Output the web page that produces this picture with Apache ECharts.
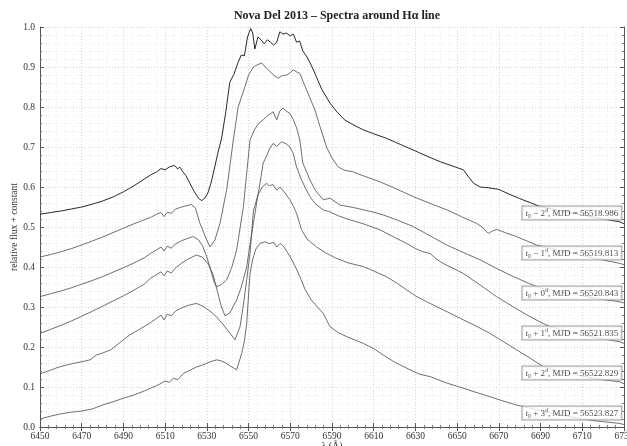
<!DOCTYPE html>
<html>
<head>
<meta charset="utf-8">
<script src="https://cdn.jsdelivr.net/npm/echarts@6/dist/echarts.min.js"></script>
<style>html,body{margin:0;padding:0;background:#fff}#c{width:627px;height:446px}</style>
</head>
<body>
<div id="c"></div>
<script>
// ---- data: [wavelength (Å), relative flux + constant] ----
const spec_m2d = [[6450,0.532],[6455,0.536],[6460,0.540],[6465,0.545],[6470,0.550],[6475,0.557],[6480,0.565],[6485,0.575],[6490,0.588],[6495,0.603],[6500,0.620],[6503,0.630],[6506,0.638],[6508,0.646],[6510,0.643],[6512,0.650],[6514.5,0.654],[6516,0.645],[6517,0.650],[6518.5,0.638],[6520,0.628],[6522,0.608],[6524,0.588],[6526,0.572],[6527.5,0.566],[6529,0.572],[6530.5,0.585],[6532,0.610],[6534,0.655],[6535.5,0.690],[6537,0.720],[6539,0.785],[6541,0.862],[6543,0.882],[6545,0.912],[6546.5,0.930],[6548,0.928],[6549.5,0.975],[6551,0.996],[6552,0.985],[6553,0.945],[6554.5,0.975],[6556,0.968],[6557.5,0.958],[6559,0.968],[6560.5,0.962],[6562,0.955],[6563.5,0.962],[6565,0.988],[6566.5,0.982],[6568,0.985],[6570,0.978],[6571.5,0.982],[6573,0.962],[6574.5,0.965],[6576,0.940],[6578,0.925],[6580,0.905],[6582.5,0.876],[6585,0.845],[6589,0.810],[6592,0.790],[6596,0.768],[6600,0.756],[6605,0.743],[6610,0.733],[6616,0.722],[6623,0.706],[6630,0.690],[6636,0.676],[6642,0.663],[6648,0.652],[6653,0.643],[6655.5,0.625],[6658,0.609],[6661,0.600],[6665,0.598],[6670,0.594],[6675,0.582],[6680,0.571],[6685,0.561],[6690,0.551],[6700,0.540],[6710,0.530],[6720,0.520],[6728,0.513],[6730,0.508]];
const spec_m1d = [[6450,0.425],[6455,0.431],[6460,0.438],[6465,0.446],[6470,0.455],[6475,0.465],[6480,0.475],[6485,0.486],[6490,0.497],[6495,0.508],[6500,0.518],[6503,0.524],[6506,0.532],[6508,0.536],[6509.5,0.526],[6511,0.537],[6513,0.534],[6515,0.545],[6518,0.550],[6520,0.553],[6522.5,0.556],[6524.5,0.548],[6526.7,0.509],[6529.9,0.468],[6531.5,0.450],[6533.9,0.468],[6536.3,0.509],[6539.5,0.593],[6542.7,0.718],[6545,0.800],[6548.3,0.851],[6550,0.880],[6552.3,0.900],[6554,0.905],[6556.3,0.910],[6558,0.900],[6560.3,0.888],[6562,0.880],[6564.2,0.872],[6566,0.878],[6568.3,0.880],[6570,0.886],[6571.4,0.893],[6573,0.888],[6574.6,0.884],[6576,0.865],[6577.8,0.843],[6580,0.815],[6581.8,0.793],[6584,0.755],[6587.4,0.700],[6590,0.672],[6593,0.650],[6596,0.642],[6600,0.638],[6605,0.628],[6613,0.613],[6620,0.597],[6629,0.576],[6637,0.559],[6645,0.543],[6652,0.526],[6659.3,0.509],[6662,0.500],[6664.9,0.484],[6667,0.490],[6669,0.494],[6673,0.486],[6678.5,0.476],[6683,0.466],[6688,0.455],[6700,0.440],[6715,0.423],[6728,0.409],[6730,0.406]];
const spec_p0d = [[6450,0.326],[6455,0.333],[6460,0.340],[6465,0.348],[6470,0.357],[6475,0.366],[6480,0.376],[6485,0.387],[6490,0.398],[6495,0.410],[6500,0.423],[6503,0.434],[6506,0.443],[6508,0.450],[6509.5,0.440],[6511,0.452],[6513,0.447],[6515,0.458],[6518,0.466],[6521,0.472],[6523.5,0.476],[6526,0.468],[6528,0.452],[6530,0.425],[6532,0.390],[6533.5,0.362],[6534.7,0.351],[6537,0.356],[6539.5,0.368],[6542,0.400],[6544.3,0.443],[6547.5,0.550],[6550.7,0.718],[6553,0.745],[6555,0.760],[6557,0.768],[6559,0.778],[6561.8,0.788],[6563.5,0.768],[6565,0.790],[6566.6,0.797],[6568,0.790],[6569.8,0.784],[6571.5,0.768],[6573,0.748],[6574.5,0.720],[6576,0.660],[6579.4,0.618],[6582,0.592],[6585.8,0.568],[6589,0.572],[6593.8,0.555],[6600,0.549],[6605,0.543],[6610,0.537],[6614.6,0.530],[6620,0.520],[6629,0.501],[6637,0.478],[6645,0.455],[6653,0.436],[6661,0.418],[6669,0.396],[6677,0.376],[6684,0.360],[6690,0.347],[6700,0.337],[6710,0.328],[6720,0.319],[6728,0.313],[6730,0.310]];
const spec_p1d = [[6450,0.234],[6455,0.244],[6460,0.254],[6465,0.265],[6470,0.277],[6475,0.289],[6480,0.302],[6485,0.315],[6490,0.328],[6495,0.342],[6500,0.357],[6503,0.372],[6506,0.381],[6508,0.388],[6509.5,0.378],[6511,0.390],[6513,0.385],[6515,0.398],[6518,0.410],[6521,0.420],[6525,0.430],[6528,0.424],[6531,0.405],[6533,0.380],[6535,0.340],[6537,0.300],[6538.7,0.278],[6541,0.285],[6544.3,0.318],[6546.5,0.350],[6549.1,0.400],[6550.5,0.450],[6552.3,0.509],[6554,0.565],[6555.5,0.610],[6557,0.660],[6558.7,0.678],[6560,0.695],[6561.8,0.709],[6563.5,0.702],[6565.9,0.713],[6568,0.708],[6569.8,0.700],[6571.4,0.684],[6573,0.650],[6575.4,0.618],[6577,0.600],[6579.4,0.576],[6582,0.558],[6585.8,0.543],[6589,0.538],[6593,0.528],[6598.6,0.518],[6605,0.508],[6613,0.493],[6620,0.474],[6625.8,0.459],[6630,0.446],[6633.7,0.438],[6637,0.434],[6640,0.420],[6643.3,0.409],[6648,0.397],[6652.9,0.384],[6661,0.355],[6668.9,0.326],[6677,0.300],[6684.9,0.276],[6690,0.262],[6694.5,0.251],[6705,0.237],[6715,0.225],[6728,0.213],[6730,0.209]];
const spec_p2d = [[6450,0.133],[6454,0.140],[6458,0.148],[6462,0.154],[6466,0.159],[6470,0.163],[6474,0.168],[6477,0.180],[6480,0.185],[6484,0.193],[6488,0.210],[6493,0.230],[6498,0.245],[6503,0.261],[6506,0.272],[6508,0.280],[6509.5,0.268],[6511,0.282],[6513,0.278],[6515,0.290],[6518,0.298],[6521,0.304],[6525,0.309],[6528,0.302],[6531.5,0.290],[6534.7,0.275],[6538,0.255],[6541,0.235],[6543.5,0.218],[6545.9,0.251],[6547.5,0.305],[6549.1,0.368],[6550.7,0.434],[6552.3,0.540],[6554.5,0.580],[6556.5,0.600],[6558.7,0.609],[6560,0.603],[6561.7,0.606],[6563.5,0.592],[6565.1,0.600],[6567.5,0.585],[6569.8,0.568],[6571.5,0.552],[6573,0.534],[6575.4,0.493],[6578,0.470],[6582.6,0.450],[6587.4,0.434],[6592,0.422],[6598,0.410],[6605,0.401],[6610,0.390],[6616,0.376],[6621,0.360],[6625.8,0.343],[6630,0.328],[6635.4,0.313],[6643.3,0.293],[6652.9,0.268],[6660,0.250],[6665.7,0.234],[6672,0.214],[6678.5,0.193],[6685,0.172],[6691.3,0.151],[6700,0.138],[6710,0.127],[6720,0.118],[6728,0.113],[6730,0.108]];
const spec_p3d = [[6450,0.020],[6455,0.027],[6460,0.033],[6465,0.037],[6470,0.040],[6475,0.045],[6480,0.055],[6485,0.063],[6490,0.072],[6495,0.080],[6500,0.090],[6503,0.097],[6507,0.106],[6510,0.115],[6512,0.112],[6514,0.122],[6516,0.118],[6518.7,0.134],[6522,0.142],[6525,0.150],[6528,0.155],[6531,0.162],[6534.7,0.168],[6537,0.165],[6539,0.160],[6542,0.150],[6544.3,0.143],[6546.7,0.184],[6548,0.215],[6549.1,0.259],[6550,0.330],[6550.7,0.384],[6552,0.420],[6553.5,0.445],[6555.5,0.459],[6558,0.463],[6560,0.458],[6562,0.462],[6563.5,0.450],[6565.1,0.459],[6567,0.450],[6570,0.425],[6572.5,0.400],[6574.6,0.376],[6577,0.345],[6580,0.318],[6583,0.300],[6585.8,0.284],[6589,0.251],[6593,0.236],[6597,0.226],[6605,0.209],[6610,0.196],[6614.6,0.180],[6620,0.162],[6627.4,0.143],[6632,0.132],[6637,0.126],[6645,0.110],[6652.9,0.097],[6660,0.085],[6665.7,0.076],[6672,0.065],[6678.5,0.055],[6684.9,0.047],[6695,0.035],[6705,0.025],[6715,0.016],[6728,0.009],[6730,0.006]];

const spectra   = [spec_m2d, spec_m1d, spec_p0d, spec_p1d, spec_p2d, spec_p3d];
const dayShift  = [-2, -1, 0, 1, 2, 3];
const mjd       = ['56518.986', '56519.813', '56520.843', '56521.835', '56522.829', '56523.827'];
const offsets   = [0.5, 0.4, 0.3, 0.2, 0.1, 0.0];
const xTicks    = [6450, 6730, 20];
const yTicks    = [0.0, 1.0, 0.1];

const SERIF = '"Liberation Serif","DejaVu Serif",serif';
const lineColors = ['#111', '#4a4a4a', '#4a4a4a', '#4a4a4a', '#4a4a4a', '#4a4a4a'];

const series = spectra.map((d, i) => ({
  type: 'line', data: d, showSymbol: false, symbol: 'none', silent: true,
  lineStyle: { color: lineColors[i], width: i === 0 ? 0.9 : 0.8 },
  z: 2, animation: false
}));

const labelData = dayShift.map((s, i) => ({
  value: [6705, offsets[i] + 0.035],
  label: {
    formatter: '{it|t}{sub|0}{n| ' + (s < 0 ? '\u2212' : '+') + ' ' + Math.abs(s) + '}{sup|d}{n|, MJD = ' + mjd[i] + '}'
  }
}));

series.push({
  type: 'scatter', data: labelData, symbolSize: 0, silent: true, z: 10, animation: false,
  label: {
    show: true, position: 'inside',
    backgroundColor: '#fff', borderColor: '#8a8a8a', borderWidth: 1,
    padding: [1, 3, 0, 3],
    rich: {
      it:  { fontFamily: SERIF, fontStyle: 'italic', fontSize: 9, color: '#222', lineHeight: 12 },
      sub: { fontFamily: SERIF, fontSize: 6, color: '#222', verticalAlign: 'bottom', lineHeight: 12, padding: [4, 0, 0, 0] },
      sup: { fontFamily: SERIF, fontSize: 6, color: '#222', verticalAlign: 'top', lineHeight: 12, padding: [0, 0, 4, 0] },
      n:   { fontFamily: SERIF, fontSize: 9, color: '#222', lineHeight: 12 }
    }
  }
});

const gridLine = { show: true, lineStyle: { color: '#d4d4d4', type: [1, 2], width: 1 } };
const minorGrid = { show: true, lineStyle: { color: '#ececec', type: [1, 2], width: 1 } };
const frame = { show: true, lineStyle: { color: '#555', width: 1 } };

const option = {
  animation: false,
  backgroundColor: '#fff',
  title: {
    text: 'Nova Del 2013 \u2013 Spectra around H\u03b1 line',
    left: 332, top: 5, textAlign: 'center',
    textStyle: { fontFamily: SERIF, fontWeight: 'bold', fontSize: 12, color: '#222' }
  },
  grid: { left: 40, right: 3, top: 27, bottom: 19, containLabel: false, outerBoundsMode: 'none' },
  xAxis: [{
    type: 'value', min: xTicks[0], max: xTicks[1], interval: xTicks[2], position: 'bottom',
    name: '\u03bb (\u00c5)', nameLocation: 'middle', nameGap: 14, nameMoveOverlap: false,
    nameTextStyle: { fontFamily: SERIF, fontSize: 10, color: '#333' },
    axisLine: frame,
    axisTick: { show: true, inside: true, length: 4, lineStyle: { color: '#555' } },
    minorTick: { show: true, splitNumber: 5, length: 2, lineStyle: { color: '#777' } },
    splitLine: gridLine, minorSplitLine: minorGrid,
    axisLabel: { fontFamily: SERIF, fontSize: 9.5, color: '#333', margin: 4, formatter: v => String(v) }
  }, {
    type: 'value', min: xTicks[0], max: xTicks[1], interval: xTicks[2], position: 'top',
    axisLine: frame,
    axisTick: { show: true, inside: true, length: 4, lineStyle: { color: '#555' } },
    minorTick: { show: true, splitNumber: 5, length: 2, lineStyle: { color: '#777' } },
    splitLine: { show: false }, axisLabel: { show: false }
  }],
  yAxis: [{
    type: 'value', min: yTicks[0], max: yTicks[1], interval: yTicks[2], position: 'left',
    name: 'relative flux + constant', nameLocation: 'middle', nameGap: 21, nameMoveOverlap: false,
    nameTextStyle: { fontFamily: SERIF, fontSize: 9.5, color: '#333' },
    axisLine: frame,
    axisTick: { show: true, inside: true, length: 4, lineStyle: { color: '#555' } },
    minorTick: { show: true, splitNumber: 5, length: 2, lineStyle: { color: '#777' } },
    splitLine: gridLine, minorSplitLine: minorGrid,
    axisLabel: { fontFamily: SERIF, fontSize: 9.5, color: '#333', margin: 5, formatter: v => v.toFixed(1) }
  }, {
    type: 'value', min: yTicks[0], max: yTicks[1], interval: yTicks[2], position: 'right',
    axisLine: frame,
    axisTick: { show: true, inside: true, length: 4, lineStyle: { color: '#555' } },
    minorTick: { show: true, splitNumber: 5, length: 2, lineStyle: { color: '#777' } },
    splitLine: { show: false }, axisLabel: { show: false }
  }],
  series: series
};

const chart = echarts.init(document.getElementById('c'), null, { renderer: 'canvas' });
chart.setOption(option);
</script>
</body>
</html>
